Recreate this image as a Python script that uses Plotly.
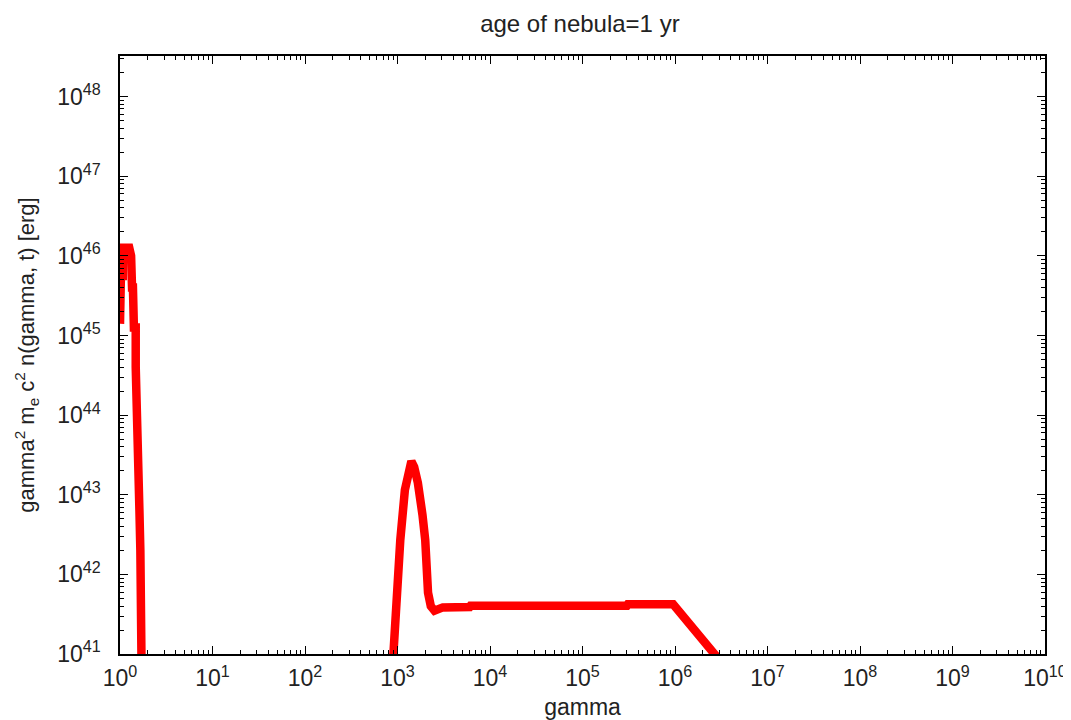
import plotly.graph_objects as go

# Low-energy (relic) component
gamma_low = [1.0, 1.0, 1.023, 1.023, 1.072, 1.072, 1.259, 1.318, 1.349, 1.380, 1.413, 1.479,
             1.479, 1.514, 1.549, 1.585, 1.622, 1.660, 1.718, 1.74]
n_low = [1.4e45, 2.8e45, 2.8e45, 5.6e45, 5.6e45, 1.26e46, 1.26e46, 1.0e46, 4.0e45, 4.0e45,
         1.26e45, 1.26e45, 4.0e44, 2.0e44, 4.0e43, 3.2e43, 6.3e42, 2.0e42, 1.0e41, 1.0e40]

# High-energy (injected) component
gamma_high = [851, 891, 977, 1072, 1202, 1318, 1413, 1514, 1660, 1862, 1995, 2138, 2291,
              2512, 2884, 3090, 6026, 6166, 3.02e5, 3.09e5, 9.55e5, 2.69e6, 3.16e6]
n_high = [3.2e40, 1.0e41, 8.5e41, 2.7e42, 1.15e43, 2.24e43, 2.63e43, 2.24e43, 1.41e43,
          5.6e42, 2.7e42, 5.9e41, 4.0e41, 3.5e41, 3.6e41, 3.85e41, 3.9e41, 4.05e41,
          4.05e41, 4.2e41, 4.2e41, 1.0e41, 7.9e40]

x_exps = list(range(0, 11))
y_exps = list(range(41, 49))

gamma = gamma_low + [None] + gamma_high
n = n_low + [None] + n_high

fig = go.Figure()
fig.add_trace(go.Scatter(x=gamma, y=n, mode="lines",
                         line=dict(color="#ff0000", width=8.5),
                         connectgaps=False, showlegend=False))

font = "Liberation Sans, Arial, sans-serif"
txt = "#222"
axis_common = dict(
    type="log", showgrid=False, zeroline=False, automargin=False,
    showline=True, linecolor="black", linewidth=1.5, mirror="allticks",
    ticks="inside", ticklen=8, tickwidth=1.2, tickcolor="black",
    tickfont=dict(family=font, size=23, color=txt),
    ticklabeloverflow="allow",
    minor=dict(ticks="inside", ticklen=4, tickwidth=1, tickcolor="black", dtick="D1", showgrid=False),
)

fig.update_xaxes(**axis_common, range=[0, 10],
                 tickvals=[10.0 ** e for e in x_exps],
                 ticktext=[f"10<sup>{e}</sup>" for e in x_exps],
                 ticklabelstandoff=3,
                 title=dict(text="gamma", font=dict(family=font, size=23, color=txt), standoff=9))
fig.update_yaxes(**axis_common, range=[41, 48.51],
                 tickvals=[10.0 ** e for e in y_exps],
                 ticktext=[f"10<sup>{e}</sup>" for e in y_exps],
                 ticklabelstandoff=13,
                 title=dict(text="gamma<sup>2</sup> m<sub>e</sub> c<sup>2</sup> n(gamma, t) [erg]",
                            font=dict(family=font, size=22, color=txt), standoff=16))

fig.update_layout(
    width=1063, height=712,
    margin=dict(l=112, r=26, t=48, b=66),
    paper_bgcolor="white", plot_bgcolor="white",
    title=dict(text="age of nebula=1 yr", x=0.538, xanchor="center", y=0.978, yanchor="middle",
               automargin=False, font=dict(family=font, size=24, color=txt)),
)

fig.write_html("out.html")
